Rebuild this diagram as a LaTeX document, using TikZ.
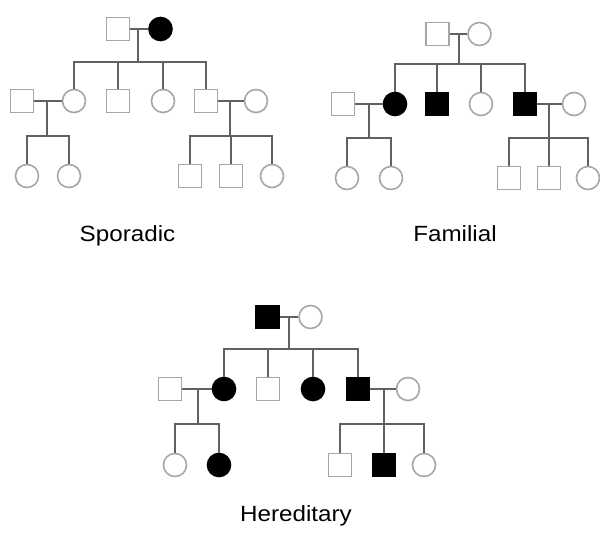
\documentclass[tikz,border=0pt]{standalone}
\usepackage{fontspec}
\setmainfont{Liberation Sans}
\begin{document}
\begin{tikzpicture}[x=1pt,y=-1pt,
  sq/.style={rectangle,draw=black!35,line width=1.6pt,minimum size=23pt,inner sep=0pt},
  sqf/.style={sq,draw=black,fill=black},
  ci/.style={circle,draw=black!35,line width=1.6pt,minimum size=23pt,inner sep=0pt},
  cif/.style={ci,draw=black,fill=black},
  ln/.style={draw=black!62,line width=2pt},
  lbl/.style={font=\fontsize{22}{26}\selectfont,anchor=base,inner sep=0pt,xscale=1.1}]
\useasboundingbox (0,0) rectangle (600,535);
% ---------- Sporadic ----------
\node[sq]  (s1) at (118,29) {};
\node[cif] (s2) at (160.5,29) {};
\node[ci]  (s3) at (74,101) {};
\node[sq]  (s4) at (118,101) {};
\node[ci]  (s5) at (163,101) {};
\node[sq]  (s6) at (206,101) {};
\node[sq]  (s7) at (22,101) {};
\node[ci]  (s8) at (256,101) {};
\node[ci]  (s9) at (27,176) {};
\node[ci]  (s10) at (69,176) {};
\node[sq]  (s11) at (190,176) {};
\node[sq]  (s12) at (231,176) {};
\node[ci]  (s13) at (272,176) {};
\coordinate (sj1) at (138,29);
\coordinate (sb1) at (138,62);
\coordinate (sj2) at (47,101);
\coordinate (sb2) at (47,136);
\coordinate (sj3) at (230,101);
\coordinate (sb3) at (230,136);
\draw[ln] (s1) -- (s2);
\draw[ln] (sj1) -- (sb1);
\draw[ln] (s3.north) |- (sb1) -| (s6.north);
\draw[ln] (s4.north) -- (s4.north |- sb1);
\draw[ln] (s5.north) -- (s5.north |- sb1);
\draw[ln] (s7) -- (s3);
\draw[ln] (sj2) -- (sb2);
\draw[ln] (s9.north) |- (sb2) -| (s10.north);
\draw[ln] (s6) -- (s8);
\draw[ln] (sj3) -- (sb3);
\draw[ln] (s11.north) |- (sb3) -| (s13.north);
\draw[ln] (s12.north) -- (s12.north |- sb3);
\node[lbl] (lsp) at (127.5,241) {Sporadic};
% ---------- Familial ----------
\node[sq]  (f1) at (437.5,34) {};
\node[ci]  (f2) at (479.5,34) {};
\node[cif] (f3) at (395,104) {};
\node[sqf] (f4) at (437,104) {};
\node[ci]  (f5) at (481,104) {};
\node[sqf] (f6) at (525,104) {};
\node[sq]  (f7) at (343,104) {};
\node[ci]  (f8) at (574,104) {};
\node[ci]  (f9) at (347,178) {};
\node[ci]  (f10) at (391,178) {};
\node[sq]  (f11) at (509,178) {};
\node[sq]  (f12) at (549,178) {};
\node[ci]  (f13) at (588,178) {};
\coordinate (fj1) at (459,34);
\coordinate (fb1) at (459,64);
\coordinate (fj2) at (369,104);
\coordinate (fb2) at (369,138);
\coordinate (fj3) at (549,104);
\coordinate (fb3) at (549,138);
\draw[ln] (f1) -- (f2);
\draw[ln] (fj1) -- (fb1);
\draw[ln] (f3.north) |- (fb1) -| (f6.north);
\draw[ln] (f4.north) -- (f4.north |- fb1);
\draw[ln] (f5.north) -- (f5.north |- fb1);
\draw[ln] (f7) -- (f3);
\draw[ln] (fj2) -- (fb2);
\draw[ln] (f9.north) |- (fb2) -| (f10.north);
\draw[ln] (f6) -- (f8);
\draw[ln] (fj3) -- (fb3);
\draw[ln] (f11.north) |- (fb3) -| (f13.north);
\draw[ln] (f12.north) -- (f12.north |- fb3);
\node[lbl] (lfa) at (455,241) {Familial};
% ---------- Hereditary ----------
\node[sqf] (h1) at (267.5,317) {};
\node[ci]  (h2) at (310.5,317) {};
\node[cif] (h3) at (224,389) {};
\node[sq]  (h4) at (268,389) {};
\node[cif] (h5) at (313,389) {};
\node[sqf] (h6) at (358,389) {};
\node[sq]  (h7) at (170,389) {};
\node[ci]  (h8) at (408,389) {};
\node[ci]  (h9) at (175,465) {};
\node[cif] (h10) at (219,465) {};
\node[sq]  (h11) at (340,465) {};
\node[sqf] (h12) at (384,465) {};
\node[ci]  (h13) at (424,465) {};
\coordinate (hj1) at (289,317);
\coordinate (hb1) at (289,349);
\coordinate (hj2) at (198,389);
\coordinate (hb2) at (198,424);
\coordinate (hj3) at (384,389);
\coordinate (hb3) at (384,424);
\draw[ln] (h1) -- (h2);
\draw[ln] (hj1) -- (hb1);
\draw[ln] (h3.north) |- (hb1) -| (h6.north);
\draw[ln] (h4.north) -- (h4.north |- hb1);
\draw[ln] (h5.north) -- (h5.north |- hb1);
\draw[ln] (h7) -- (h3);
\draw[ln] (hj2) -- (hb2);
\draw[ln] (h9.north) |- (hb2) -| (h10.north);
\draw[ln] (h6) -- (h8);
\draw[ln] (hj3) -- (hb3);
\draw[ln] (h11.north) |- (hb3) -| (h13.north);
\draw[ln] (h12.north) -- (h12.north |- hb3);
\node[lbl] (lhe) at (296,521) {Hereditary};
\end{tikzpicture}
\end{document}
